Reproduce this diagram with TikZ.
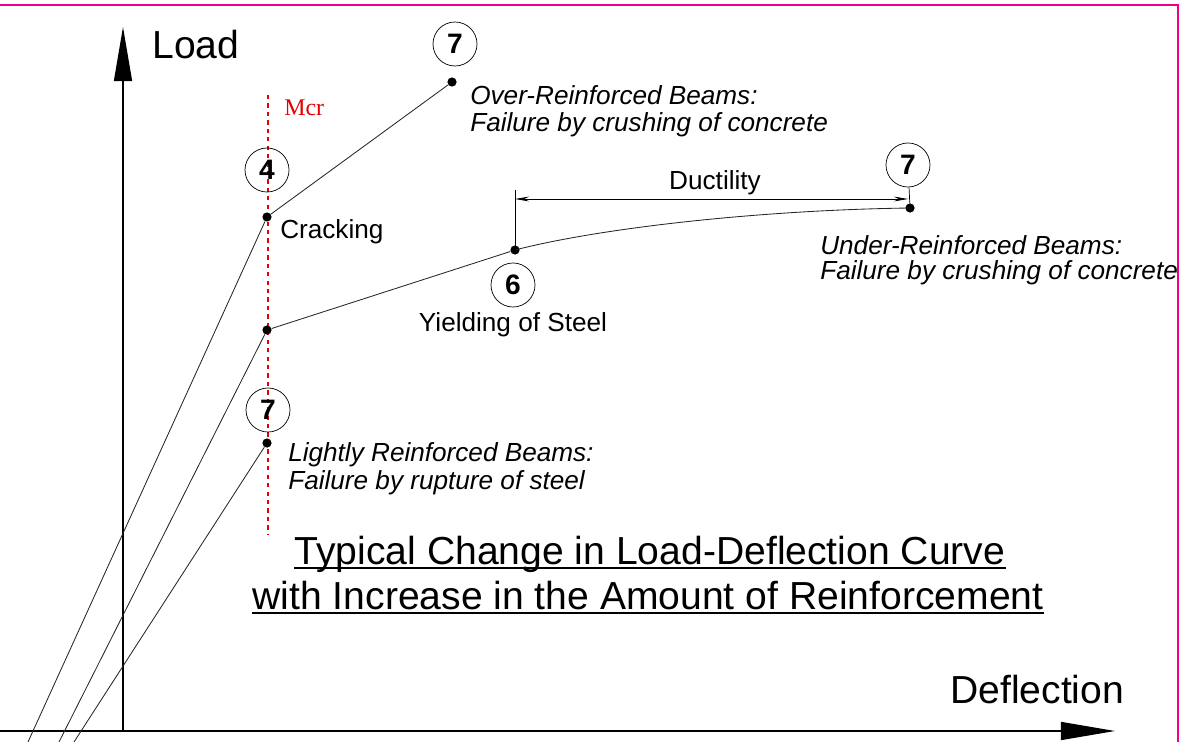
\documentclass[tikz,border=0pt]{standalone}
\usepackage{fontspec}
\setmainfont{Liberation Sans}
\newfontfamily\mcrfont{Liberation Serif}
\usetikzlibrary{arrows.meta}

\begin{document}
\begin{tikzpicture}[x=0.025cm,y=-0.025cm]

\tikzset{dot/.style = {shape=circle,fill,inner sep=0pt,minimum size=0.23cm}}
\tikzset{num/.style = {shape=circle,draw,line width=0.5pt,minimum size=1.1cm,inner sep=0pt,font=\fontsize{20}{22}\selectfont\bfseries}}
\tikzset{curve/.style = {line width=0.6pt,black!85}}
\tikzset{lbl/.style = {font=\fontsize{18.6}{22}\selectfont,inner sep=0pt}}
\tikzset{ilbl/.style = {font=\fontsize{18.6}{22}\selectfont\itshape,inner sep=0pt,anchor=west}}
\tikzset{big/.style = {font=\fontsize{27.8}{32}\selectfont,inner sep=0pt}}
\tikzset{title/.style = {big,text height=0.75em,text depth=0.2em}}
\tikzset{axis/.style = {-{Triangle[length=1.35cm,width=0.45cm]},line width=1pt}}

\useasboundingbox (0,0) rectangle (1180,742);
\draw[magenta,line width=1.2pt] (0,5) -- (1178,5) -- (1178,742);

% axes
\coordinate (o) at (123,731);
\coordinate (ytop) at (123,27);
\coordinate (xleft) at (0,731);
\coordinate (xend) at (1115,731);
\draw[axis] (o) -- (ytop);
\draw[axis] (xleft) -- (xend);
\node[big,anchor=west] (load) at (152,45) {Load};
\node[big,anchor=west] (defl) at (950,690) {Deflection};

% cracking moment line
\coordinate (mtop) at (268,95);
\coordinate (mbot) at (268,535);
\draw[red!90!black,dashed,line width=0.8pt] (mtop) -- (mbot);
\node[text=red!90!black,font=\mcrfont\fontsize{17}{20}\selectfont,anchor=west,inner sep=0pt] (mcr) at (284,108) {Mcr};

% over-reinforced
\coordinate (s1) at (28,742);
\node[dot] (crack) at (267,217) {};
\node[dot] (over) at (452,82) {};
\draw[curve] (s1) -- (crack) -- (over);

% under-reinforced
\coordinate (s2) at (59,742);
\node[dot] (under) at (267,330) {};
\node[dot] (yield) at (515,250) {};
\node[dot] (ult) at (910,208) {};
\draw[curve] (s2) -- (under) -- (yield);
\draw[curve] (yield.center) .. controls (600,228) and (760,210) .. (ult.center);

% lightly reinforced
\coordinate (s3) at (74,742);
\node[dot] (light) at (267,443) {};
\draw[curve] (s3) -- (light);

% stage numbers
\node[num] (n7a) at (455,44) {7};
\node[num] (n4) at (267,170) {4};
\node[num] (n6) at (513,285) {6};
\node[num] (n7b) at (908,165) {7};
\node[num] (n7c) at (268,410) {7};

% ductility
\coordinate (dtop) at (515,190);
\coordinate (dl) at (515,199);
\coordinate (dr) at (908,199);
\draw[line width=0.6pt] (yield.center) -- (dtop);
\draw[line width=0.6pt,{Stealth[length=0.35cm,width=0.12cm]}-{Stealth[length=0.35cm,width=0.12cm]}] (dl) -- (dr);
\draw[line width=0.5pt] (n7b) -- (ult);
\node[lbl] (duct) at (715,183) {Ductility};

% labels
\node[lbl,anchor=west] (crk) at (280,232) {Cracking};
\node[lbl] (ys) at (513,325) {Yielding of Steel};
\node[ilbl] (ov1) at (470,95) {Over-Reinforced Beams:};
\node[ilbl] (ov2) at (470,125) {Failure by crushing of concrete};
\node[ilbl] (un1) at (820,245) {Under-Reinforced Beams:};
\node[ilbl] (un2) at (820,273) {Failure by crushing of concrete};
\node[ilbl] (li1) at (288,455) {Lightly Reinforced Beams:};
\node[ilbl] (li2) at (288,483) {Failure by rupture of steel};

% title
\node[title] (t1) at (650,561) {Typical Change in Load-Deflection Curve};
\node[title] (t2) at (648,606) {with Increase in the Amount of Reinforcement};
\draw[line width=0.8pt] (t1.south west) -- (t1.south east);
\draw[line width=0.8pt] (t2.south west) -- (t2.south east);

\end{tikzpicture}
\end{document}
